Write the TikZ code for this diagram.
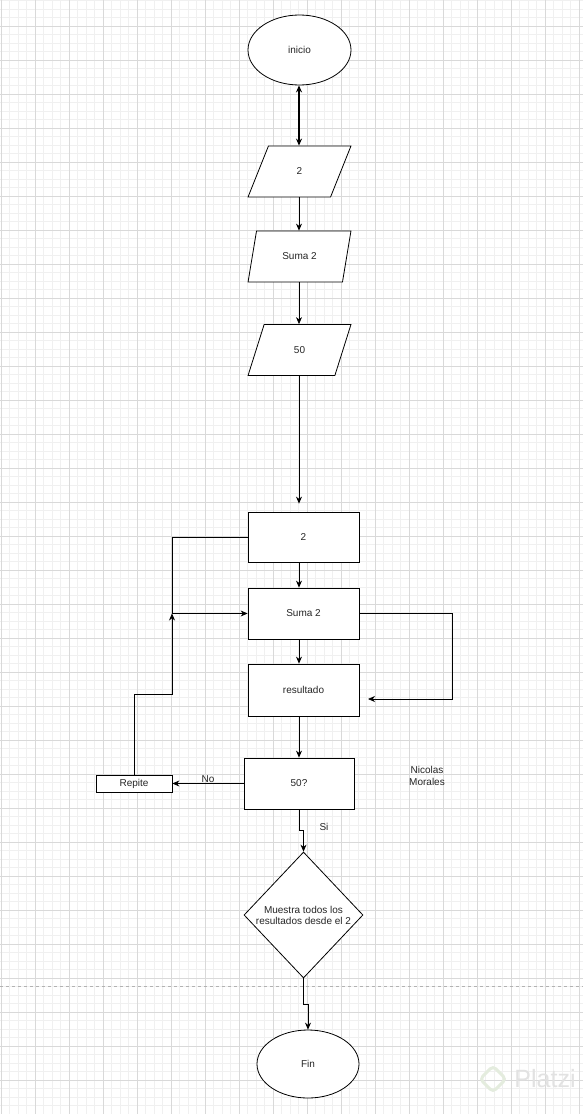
\documentclass[tikz,border=0pt]{standalone}
\usepackage{fontspec}
\setmainfont{Liberation Sans}
\usetikzlibrary{shapes.geometric,arrows.meta,calc}
\definecolor{wmgreen}{RGB}{228,236,222}
\definecolor{wmgray}{RGB}{226,226,226}
\begin{document}
\begin{tikzpicture}[x=1pt,y=-1pt,
  every node/.style={font=\fontsize{10}{12}\selectfont, text=black!85},
  box/.style={draw, rectangle, line width=0.8pt, fill=white, inner sep=1pt},
  para/.style={draw, trapezium, trapezium left angle=73.6, trapezium right angle=106.4,
    trapezium stretches=true, minimum width=103pt, minimum height=51pt, line width=0.8pt, fill=white},
  term/.style={draw, ellipse, line width=0.8pt, fill=white},
  arr/.style={-{Stealth[length=7pt,width=6pt]}, line width=0.8pt},
  darr/.style={{Stealth[length=7pt,width=6pt]}-{Stealth[length=7pt,width=6pt]}, line width=1.4pt},
  ln/.style={line width=0.8pt},
  minor/.style={draw=black!6, line width=0.5pt},
  major/.style={draw=black!15, line width=0.5pt},
  lbl/.style={inner sep=1pt}]
\useasboundingbox (0,0) rectangle (583,1114);
\fill[white] (0,0) rectangle (583,1114);
% background grid
\foreach \i in {0,...,68} \draw[minor] ({1+8.5*\i},0) -- ({1+8.5*\i},1114);
\foreach \i in {1,...,132} \draw[minor] (0,{-8+8.5*\i}) -- (583,{-8+8.5*\i});
\foreach \i in {0,...,17} \draw[major] ({1+34*\i},0) -- ({1+34*\i},1114);
\foreach \i in {1,...,33} \draw[major] (0,{-8+34*\i}) -- (583,{-8+34*\i});
\draw[black!30, dashed, line width=0.6pt] (0,986) -- (583,986);
% watermark
\draw[wmgreen, line width=3pt, rounded corners=4pt] (493,1066) -- (506,1079) -- (493,1092) -- (480,1079) -- cycle;
\node[text=wmgray, font=\fontsize{25}{25}\selectfont, inner sep=0pt] (wm) at (545,1079) {Platzi};
% nodes
\node[term, minimum width=103pt, minimum height=70pt] (inicio) at (299.5,50) {inicio};
\node[para] (p1) at (299.5,171.5) {2};
\node[para] (p2) at (299.5,256.5) {Suma 2};
\node[para] (p3) at (299.5,350) {50};
\node[box, minimum width=111pt, minimum height=50pt] (b2) at (303.5,537) {2};
\node[box, minimum width=111pt, minimum height=51pt] (s2) at (303.5,613.5) {Suma 2};
\node[box, minimum width=111pt, minimum height=52pt] (res) at (303.5,690) {resultado};
\node[box, minimum width=110pt, minimum height=51pt] (q) at (299,783.5) {50?};
\node[box, minimum width=76pt, minimum height=17pt] (rep) at (134,783.5) {Repite};
\node[draw, diamond, aspect=0.94, minimum width=119pt, minimum height=126pt, inner sep=0pt,
  line width=0.8pt, fill=white, align=center, font=\fontsize{10}{11}\selectfont] (dm) at (303.5,915)
  {Muestra todos los\\resultados desde el 2};
\node[term, minimum width=102pt, minimum height=68pt] (fin) at (308,1064) {Fin};
\node[align=center, font=\fontsize{10}{12}\selectfont] (nm) at (427,776) {Nicolas\\Morales};
% helper coordinates
\coordinate (ax) at (299,0);
\coordinate (j) at (172,613.5);
\coordinate (k) at (172,694);
\coordinate (r) at (368,699);
% connectors
\draw[darr] (inicio.south -| ax) -- (p1.north -| ax);
\draw[arr] (p1.south -| ax) -- (p2.north -| ax);
\draw[arr] (p2.south -| ax) -- (p3.north -| ax);
\draw[arr] (p3.south -| ax) -- ($(b2.north -| ax)+(0,-8)$);
\draw[arr] (b2.south -| ax) -- (s2.north -| ax);
\draw[arr] (s2.south -| ax) -- (res.north -| ax);
\draw[arr] (res.south -| ax) -- (q.north -| ax);
\draw[arr] (b2.west) -| (j) -- (s2.west);
\draw[arr] (rep.north) |- (k) -- (j);
\draw[arr] (s2.east) -| ($(r)+(84,0)$) -- (r);
\draw[arr] (q.west) -- node[lbl, above, pos=0.5] (no) {No} (rep.east);
\draw[arr] (q.south) -- ++(0,21) -| (dm.north);
\node[lbl] (si) at (324,827) {Si};
\draw[arr] (dm.south) -- ++(0,26) -| (fin.north);
\end{tikzpicture}
\end{document}
